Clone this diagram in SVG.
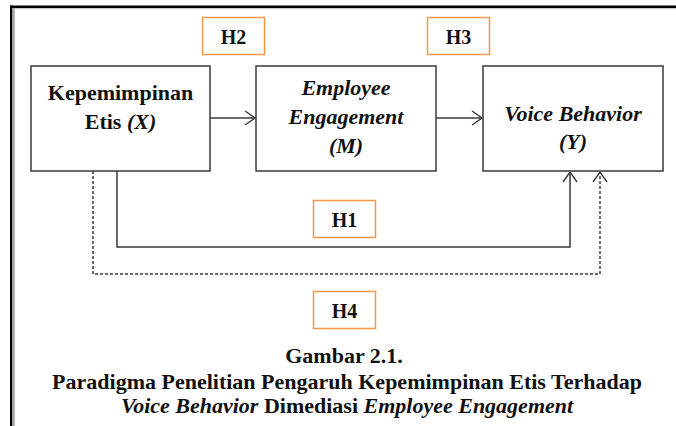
<svg xmlns="http://www.w3.org/2000/svg" width="676" height="426" viewBox="0 0 676 426">
<style>
  .box { fill: #ffffff; stroke: #3a3a3a; stroke-width: 1.5; }
  .hbox { fill: #ffffff; stroke: #f79646; stroke-width: 1.5; }
  .t { font-family: 'Liberation Serif', 'Times New Roman', serif; font-size: 22px; font-weight: bold; fill: #111111; text-anchor: middle; }
  .h { font-family: 'Liberation Serif', 'Times New Roman', serif; font-size: 20px; font-weight: bold; fill: #111111; text-anchor: middle; }
  .i { font-style: italic; }
  .ln { fill: none; stroke: #3a3a3a; stroke-width: 1.5; }
  .dash { stroke-dasharray: 3 2; }
</style>
<defs>
  <marker id="open" viewBox="0 0 12 16" refX="11" refY="8" markerWidth="12" markerHeight="16" markerUnits="userSpaceOnUse" orient="auto">
    <path d="M1 1 L11 8 L1 15" fill="none" stroke="#3a3a3a" stroke-width="1.4"/>
  </marker>
</defs>
<rect x="0" y="0" width="676" height="426" fill="#ffffff"/>
<g id="frame">
  <line x1="10" y1="6.8" x2="676" y2="6.8" stroke="#000" stroke-width="2.4"/>
  <line x1="11.2" y1="5.6" x2="11.2" y2="426" stroke="#000" stroke-width="2.4"/>
  <line x1="12.4" y1="8.6" x2="676" y2="8.6" stroke="#c0c0c0" stroke-width="1"/>
  <line x1="13.8" y1="8" x2="13.8" y2="426" stroke="#a8a8a8" stroke-width="2"/>
</g>
<g id="connectors">
  <line class="ln" x1="210" y1="118" x2="255" y2="118" marker-end="url(#open)"/>
  <line class="ln" x1="436" y1="118" x2="482" y2="118" marker-end="url(#open)"/>
  <polyline class="ln" points="117,171 117,247 570,247 570,172" marker-end="url(#open)"/>
  <polyline class="ln dash" points="93,171 93,274 600,274 600,172" marker-end="url(#open)"/>
</g>
<g id="node-x">
  <rect class="box" x="31" y="66" width="179" height="105"/>
  <text class="t" x="120.5" y="100">Kepemimpinan</text>
  <text class="t" x="120.5" y="129">Etis <tspan class="i">(X)</tspan></text>
</g>
<g id="node-m">
  <rect class="box" x="256" y="66" width="180" height="105"/>
  <text class="t i" x="346" y="95">Employee</text>
  <text class="t i" x="346" y="124">Engagement</text>
  <text class="t i" x="346" y="153">(M)</text>
</g>
<g id="node-y">
  <rect class="box" x="483" y="66" width="180" height="105"/>
  <text class="t i" x="573" y="121">Voice Behavior</text>
  <text class="t i" x="573" y="149">(Y)</text>
</g>
<g id="label-h2">
  <rect class="hbox" x="202.5" y="17.5" width="62" height="37"/>
  <text class="h" x="233.5" y="44">H2</text>
</g>
<g id="label-h3">
  <rect class="hbox" x="427.5" y="17.5" width="62" height="37"/>
  <text class="h" x="458.5" y="44">H3</text>
</g>
<g id="label-h1">
  <rect class="hbox" x="313.5" y="200.5" width="62" height="37"/>
  <text class="h" x="344.5" y="227">H1</text>
</g>
<g id="label-h4">
  <rect class="hbox" x="313.5" y="291.5" width="62" height="37"/>
  <text class="h" x="344.5" y="318">H4</text>
</g>
<g id="caption">
  <text class="t" x="344" y="363">Gambar 2.1.</text>
  <text class="t" x="347" y="389">Paradigma Penelitian Pengaruh Kepemimpinan Etis Terhadap</text>
  <text class="t" x="347" y="413"><tspan class="i">Voice Behavior</tspan> Dimediasi <tspan class="i">Employee Engagement</tspan></text>
</g>
</svg>
